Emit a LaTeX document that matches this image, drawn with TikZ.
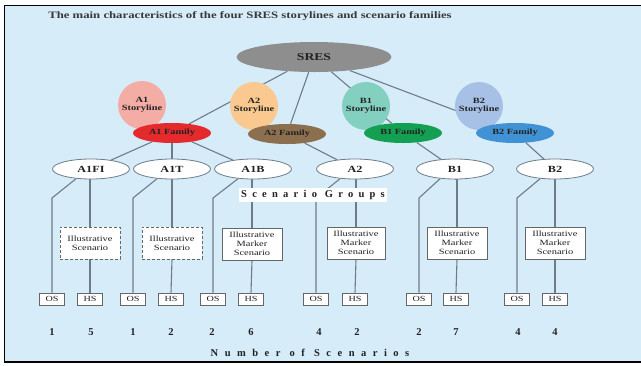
\documentclass[tikz,border=0pt]{standalone}
\usepackage{fontspec}
\setmainfont{Liberation Serif}
\newfontfamily\wf[FakeStretch=1.3]{Liberation Serif}
\newfontfamily\spc[LetterSpace=50]{Liberation Serif}
\newfontfamily\spcw[LetterSpace=62]{Liberation Serif}
\pgfdeclarelayer{bg}
\pgfsetlayers{bg,main}
\definecolor{bgblue}{HTML}{D6ECF8}
\definecolor{lnc}{HTML}{6E7C88}
\definecolor{txt}{HTML}{222222}
\definecolor{sresc}{HTML}{8E8E8E}
\definecolor{stA}{HTML}{F4ADA4}
\definecolor{stB}{HTML}{F9C990}
\definecolor{stC}{HTML}{83D0C0}
\definecolor{stD}{HTML}{A7C1E6}
\definecolor{faA}{HTML}{E52A2E}
\definecolor{faB}{HTML}{8B6F4E}
\definecolor{faC}{HTML}{14A052}
\definecolor{faD}{HTML}{4192D4}
\usetikzlibrary{shapes.geometric}
\begin{document}
\begin{tikzpicture}[x=1pt,y=-1pt,
  conn/.style={draw=lnc,line width=1.1pt},
  story/.style={circle,minimum size=48pt,inner sep=0pt,align=center,text=txt,
     font=\wf\bfseries\fontsize{8}{8.4}\selectfont},
  fam/.style={ellipse,minimum width=78pt,minimum height=20pt,inner sep=0pt,text=txt,
     font=\wf\bfseries\fontsize{7.9}{9}\selectfont},
  grp/.style={ellipse,draw=lnc,line width=0.8pt,fill=white,minimum width=77pt,minimum height=20pt,inner sep=0pt,text=txt,
     font=\wf\bfseries\fontsize{9.4}{10}\selectfont},
  illus/.style={rectangle,draw=gray!80!black,line width=0.7pt,fill=white,minimum width=60pt,minimum height=32pt,inner sep=0pt,align=center,text=txt,
     font=\wf\fontsize{8}{8.9}\selectfont},
  illusd/.style={illus,dashed,dash pattern=on 3pt off 2pt,line width=0.9pt},
  small/.style={rectangle,draw=gray!80!black,line width=0.7pt,fill=white,minimum width=25pt,minimum height=12pt,inner sep=0pt,text=txt,
     font=\wf\fontsize{7.8}{8}\selectfont},
  num/.style={text=txt,font=\bfseries\fontsize{10.5}{11}\selectfont}]
\useasboundingbox (0,0) rectangle (641,365);
\begin{pgfonlayer}{bg}
\fill[bgblue] (4,5) rectangle (641,362);
\end{pgfonlayer}
\draw[line width=0.9pt] (641,5) -- (4,5) -- (4,362);
\draw[line width=2pt] (4,362) -- (641,362);

\node[text=black!78,font=\wf\bfseries\fontsize{9.8}{10}\selectfont] (title) at (250,16) {The main characteristics of the four SRES storylines and scenario families};

\node[shape=ellipse,fill=sresc,minimum width=155pt,minimum height=30pt,inner sep=0pt,text=txt,font=\wf\bfseries\fontsize{10.5}{12}\selectfont] (sres) at (314,57) {SRES};

\node[story,fill=stA] (stA) at (142,105) {A1\\Storyline};
\node[story,fill=stB] (stB) at (254,106) {A2\\Storyline};
\node[story,fill=stC] (stC) at (366,106) {B1\\Storyline};
\node[story,fill=stD] (stD) at (479,106) {B2\\Storyline};

\node[fam,fill=faA] (faA) at (172,133) {A1 Family};
\node[fam,fill=faB] (faB) at (287,134) {A2 Family};
\node[fam,fill=faC] (faC) at (403,133) {B1 Family};
\node[fam,fill=faD] (faD) at (515,133) {B2 Family};

\begin{pgfonlayer}{bg}
\draw[conn] (sres) -- (faA);
\draw[conn] (sres) -- (faB);
\draw[conn] (sres) -- (faC);
\draw[conn] (sres) -- (faD);
\end{pgfonlayer}

\node[grp] (gA) at (91,169) {A1FI};
\node[grp] (gB) at (172,169) {A1T};
\node[grp] (gC) at (253,169) {A1B};
\node[grp] (gD) at (355,169) {A2};
\node[grp] (gE) at (455,169) {B1};
\node[grp] (gF) at (555,169) {B2};

\node[illusd] (iA) at (90,243) {Illustrative\\Scenario};
\node[illusd] (iB) at (172,243) {Illustrative\\Scenario};
\node[illus] (iC) at (252,244) {Illustrative\\Marker\\Scenario};
\node[illus,minimum width=58pt] (iD) at (356,243) {Illustrative\\Marker\\Scenario};
\node[illus] (iE) at (457,243) {Illustrative\\Marker\\Scenario};
\node[illus] (iF) at (555,243) {Illustrative\\Marker\\Scenario};

\node[small] (oA) at (52,299) {OS};
\node[small] (hA) at (90,299) {HS};
\node[small] (oB) at (133,299) {OS};
\node[small] (hB) at (171,299) {HS};
\node[small] (oC) at (213,299) {OS};
\node[small] (hC) at (251,299) {HS};
\node[small] (oD) at (316,299) {OS};
\node[small] (hD) at (355,299) {HS};
\node[small] (oE) at (419,299) {OS};
\node[small] (hE) at (456,299) {HS};
\node[small] (oF) at (517,299) {OS};
\node[small] (hF) at (555,299) {HS};

\coordinate (kink) at (0,198);
\begin{pgfonlayer}{bg}
\draw[conn] (faA) -- (gA);
\draw[conn] (faA) -- (gB);
\draw[conn] (faA) -- (gC);
\draw[conn] (faB) -- (gD);
\draw[conn] (faC) -- (gE);
\draw[conn] (faD) -- (gF);
\foreach \g/\i/\o/\h in {gA/iA/oA/hA,gB/iB/oB/hB,gC/iC/oC/hC,gD/iD/oD/hD,gE/iE/oE/hE,gF/iF/oF/hF}{
  \draw[conn] (\g.213) -- (\o.north |- kink) -- (\o.north);
  \draw[conn] (\g.south) -- (\i.north |- \g.south) -- (\i.north);
  \draw[conn] (\i.south) -- (\h.north);
}
\end{pgfonlayer}

\node[fill=white,inner sep=2.5pt,text=txt,font=\spc\bfseries\fontsize{10.5}{11}\selectfont] (sg) at (313,195) {Scenario Groups};

\node[num] (nA) at (52,332) {1};
\node[num] (nB) at (91,332) {5};
\node[num] (nC) at (133,332) {1};
\node[num] (nD) at (171,332) {2};
\node[num] (nE) at (212,332) {2};
\node[num] (nF) at (251,332) {6};
\node[num] (nG) at (319,332) {4};
\node[num] (nH) at (357,332) {2};
\node[num] (nI) at (419,332) {2};
\node[num] (nJ) at (456,332) {7};
\node[num] (nK) at (518,332) {4};
\node[num] (nL) at (555,332) {4};

\node[text=txt,font=\spcw\bfseries\fontsize{10.5}{11}\selectfont] (ns) at (310,353) {Number of Scenarios};
\end{tikzpicture}
\end{document}
